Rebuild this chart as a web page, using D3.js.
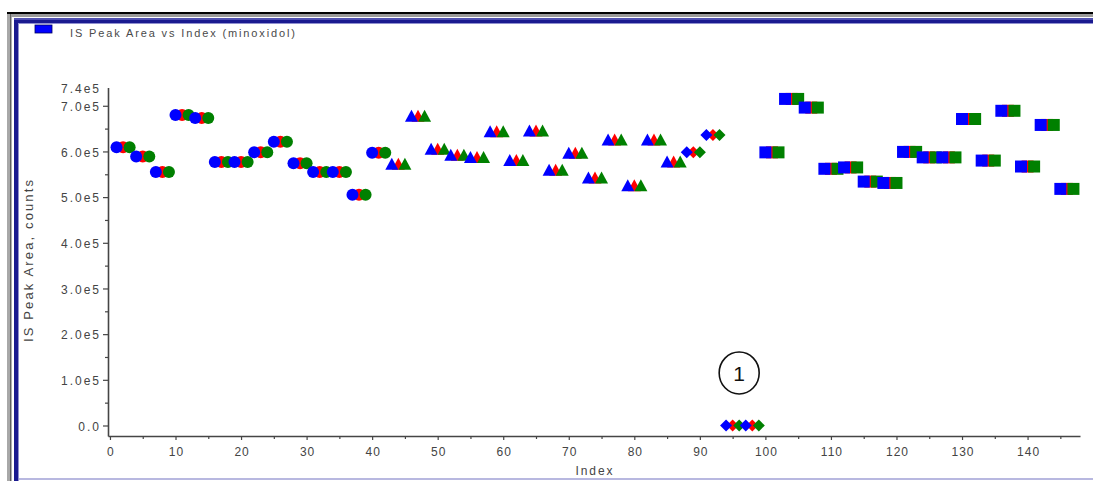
<!DOCTYPE html>
<html>
<head>
<meta charset="utf-8">
<script src="https://cdn.jsdelivr.net/npm/d3@7"></script>
<style>
  html, body { margin: 0; padding: 0; background: #fff; }
  svg { display: block; font-family: "Liberation Sans", Arial, sans-serif; }
</style>
</head>
<body>
<svg id="chart" width="1093" height="481"></svg>
<script>
// ---- data ----
const tripletStart = [1,4,7,10,13,16,19,22,25,28,31,34,37,40,43,46,49,52,55,58,61,64,67,70,73,76,79,82,85,88,91,94,97,100,103,106,109,112,115,118,121,124,127,130,133,136,139,142,145];
const peakArea = [609000,589000,555000,680000,673000,577000,577000,598000,621000,574000,555000,555000,505000,597000,573000,678000,606000,593000,588000,644000,581000,646000,560000,597000,543000,626000,526000,626000,578000,598000,636000,0,0,598000,715000,696000,562000,565000,534000,531000,599000,587000,587000,671000,580000,689000,567000,658000,518000];
const markerShape = ["circle","circle","circle","circle","circle","circle","circle","circle","circle","circle","circle","circle","circle","circle","triangle","triangle","triangle","triangle","triangle","triangle","triangle","triangle","triangle","triangle","triangle","triangle","triangle","triangle","triangle","diamond","diamond","diamond","diamond","square","square","square","square","square","square","square","square","square","square","square","square","square","square","square","square"];
const seriesNames = ["red","blue","green"];          // drawing order
const seriesOffset = {blue: 0, red: 1, green: 2};
const seriesColor = {blue: "#0000ff", red: "#ff0000", green: "#008000"};
const xTicks = [0,10,20,30,40,50,60,70,80,90,100,110,120,130,140];
const xMinor = [5,15,25,35,45,55,65,75,85,95,105,115,125,135,145];
const yTicks = [0,100000,200000,300000,400000,500000,600000,700000,740000];
const yMinor = [50000,150000,250000,350000,450000,550000,650000];
const titleText = "IS Peak Area vs Index (minoxidol)";
const yTitle = "IS Peak Area, counts";
const xTitle = "Index";

const svg = d3.select("#chart");

// ---- window frame ----
const frame = svg.append("g");
frame.append("rect").attr("x", 7).attr("y", 12).attr("width", 3).attr("height", 469).attr("fill", "#a8a8a8");
frame.append("rect").attr("x", 10).attr("y", 12).attr("width", 1.5).attr("height", 469).attr("fill", "#606060");
frame.append("rect").attr("x", 7).attr("y", 12).attr("width", 1086).attr("height", 2).attr("fill", "#000");
frame.append("rect").attr("x", 11).attr("y", 14).attr("width", 1082).attr("height", 3).attr("fill", "#9a9a9a");
frame.append("rect").attr("x", 14).attr("y", 18).attr("width", 1079).attr("height", 2).attr("fill", "#5050b0");
frame.append("rect").attr("x", 14).attr("y", 20).attr("width", 1079).attr("height", 3).attr("fill", "#1a1a90");
frame.append("rect").attr("x", 14).attr("y", 20).attr("width", 4).attr("height", 461).attr("fill", "#1a1a90");
frame.append("rect").attr("x", 18).attr("y", 23).attr("width", 1075).attr("height", 1).attr("fill", "#9090d0");
frame.append("rect").attr("x", 18).attr("y", 23).attr("width", 1).attr("height", 458).attr("fill", "#9090d0");
frame.append("rect").attr("x", 19).attr("y", 478).attr("width", 1074).attr("height", 2).attr("fill", "#b8b8e0");

// ---- legend / title ----
svg.append("rect").attr("x", 35).attr("y", 25).attr("width", 17).attr("height", 8)
  .attr("fill", "#0000ff").attr("stroke", "#000060").attr("stroke-width", 0.8);
svg.append("text").attr("x", 70).attr("y", 37).attr("font-size", 11).attr("fill", "#4a4a4a")
  .attr("textLength", 225).attr("lengthAdjust", "spacing").text(titleText);

// ---- scales ----
const x = d3.scaleLinear().domain([-0.3, 148]).range([108, 1080]);
const y = d3.scaleLinear().domain([-23000, 740000]).range([436, 87.5]);

const fmt = d => d === 0 ? "0.0" : (d / 100000).toFixed(1) + "e5";

// y axis
const yAxis = svg.append("g").attr("transform", `translate(${x.range()[0]},0)`)
  .call(d3.axisLeft(y).tickValues(yTicks).tickFormat(fmt).tickSize(5).tickPadding(4).tickSizeOuter(0));
yAxis.selectAll(".tick").filter(d => d === 740000).select("line").remove();
svg.append("g").attr("transform", `translate(${x.range()[0]},0)`)
  .call(d3.axisLeft(y).tickValues(yMinor).tickFormat("").tickSize(3).tickSizeOuter(0))
  .select(".domain").remove();

// x axis
const xAxis = svg.append("g").attr("transform", `translate(0,${y.range()[0]})`)
  .call(d3.axisBottom(x).tickValues(xTicks).tickFormat(d3.format("d")).tickSize(4).tickPadding(7).tickSizeOuter(0));
svg.append("g").attr("transform", `translate(0,${y.range()[0]})`)
  .call(d3.axisBottom(x).tickValues(xMinor).tickFormat("").tickSize(3).tickSizeOuter(0))
  .select(".domain").remove();

svg.selectAll(".domain").attr("stroke", "#454545").attr("stroke-width", 1.6);
svg.selectAll(".tick line").attr("stroke", "#454545").attr("stroke-width", 1.2);
yAxis.selectAll(".tick text").attr("font-size", 12).attr("fill", "#444")
  .attr("font-family", "Liberation Sans, Arial, sans-serif")
  .style("letter-spacing", "2px").attr("dx", "2").attr("dy", "0.4em");
xAxis.selectAll(".tick text").attr("font-size", 12).attr("fill", "#444")
  .attr("font-family", "Liberation Sans, Arial, sans-serif")
  .style("letter-spacing", "1px").attr("dx", "0.5");

// axis titles
svg.append("text").attr("transform", `translate(33,261) rotate(-90)`)
  .attr("text-anchor", "middle").attr("font-size", 13).attr("fill", "#444")
  .attr("textLength", 162).attr("lengthAdjust", "spacing").text(yTitle);
svg.append("text").attr("x", 594).attr("y", 475)
  .attr("text-anchor", "middle").attr("font-size", 12).attr("fill", "#444")
  .attr("textLength", 37).attr("lengthAdjust", "spacing").text(xTitle);

// ---- markers ----
const shapes = {
  circle: "M6,0A6,6,0,1,1,-6,0A6,6,0,1,1,6,0Z",
  triangle: "M0,-6L6.5,6L-6.5,6Z",
  diamond: "M0,-6L6,0L0,6L-6,0Z",
  square: "M-6,-6H6V6H-6Z"
};
const points = [];
tripletStart.forEach((s, i) => {
  seriesNames.forEach(name => {
    points.push({index: s + seriesOffset[name], value: peakArea[i], shape: markerShape[i], series: name});
  });
});
svg.append("g").selectAll("path").data(points).join("path")
  .attr("transform", d => `translate(${x(d.index)},${y(d.value)})`)
  .attr("d", d => shapes[d.shape])
  .attr("fill", d => seriesColor[d.series]);

// ---- annotation ----
const ann = svg.append("g").attr("transform", `translate(${x(96)},${y(115000)})`);
ann.append("ellipse").attr("rx", 20).attr("ry", 21).attr("fill", "none").attr("stroke", "#111").attr("stroke-width", 1.6);
ann.append("text").attr("text-anchor", "middle").attr("dy", "0.36em").attr("font-size", 21).attr("fill", "#111").text("1");
</script>
</body>
</html>
